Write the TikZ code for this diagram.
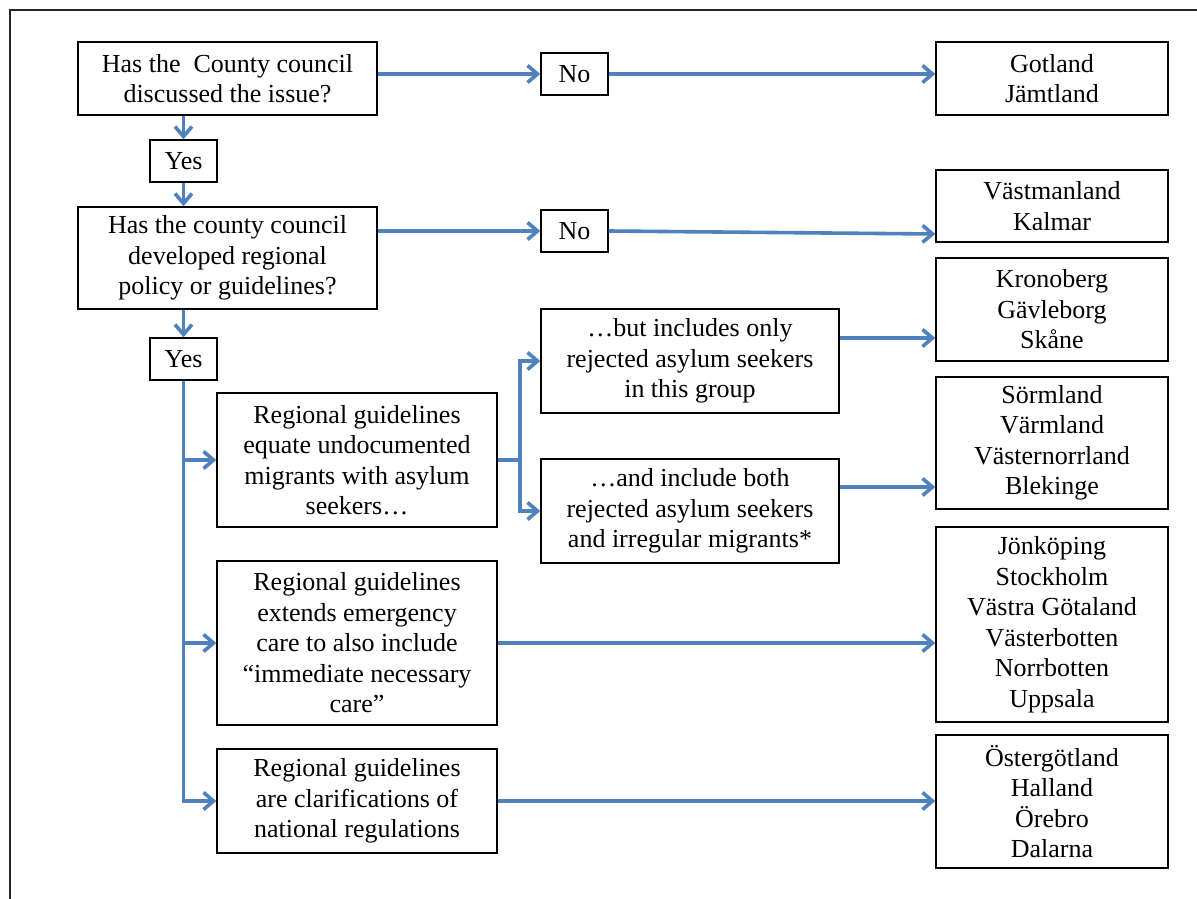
\documentclass[tikz,border=0pt]{standalone}
\usepackage{fontspec}
\setmainfont{Liberation Serif}
\usetikzlibrary{arrows.meta,calc}
\definecolor{arrblue}{HTML}{4F81BD}
\begin{document}
\begin{tikzpicture}[x=1pt,y=1pt,
  box/.style={draw=black, line width=1.4pt, align=center, inner sep=0pt,
    font=\fontsize{26}{30.5}\selectfont},
  arr/.style={draw=arrblue, line width=3.6pt,
    -{Straight Barb[length=10pt,width=17pt]}}]
\useasboundingbox (0,0) rectangle (1197,-899);
\begin{scope}
\clip (0,0) rectangle (1197,-899);
\draw[line width=1.5pt, black!85] (10,-920) -- (10,-10) -- (1220,-10);
\end{scope}
% left column
\node[box, minimum width=299, minimum height=73] (b1) at (227.5,-78.5) {Has the\ \ County council\\discussed the issue?};
\node[box, minimum width=67, minimum height=42] (yes1) at (183.5,-161) {Yes};
\node[box, minimum width=299, minimum height=102] (b2) at (227.5,-258) {Has the county council\\developed regional\\policy or guidelines?};
\node[box, minimum width=67, minimum height=42] (yes2) at (183.5,-359) {Yes};
% no boxes
\node[box, minimum width=67, minimum height=42] (no1) at (574.5,-74) {No};
\node[box, minimum width=67, minimum height=42] (no2) at (574.5,-231) {No};
% guideline boxes
\node[box, minimum width=280, minimum height=134] (g1) at (357,-460) {Regional guidelines\\equate undocumented\\migrants with asylum\\seekers…};
\node[box, minimum width=280, minimum height=164] (g2) at (357,-643) {Regional guidelines\\extends emergency\\care to also include\\“immediate necessary\\care”};
\node[box, minimum width=280, minimum height=104] (g3) at (357,-801) {Regional guidelines\\are clarifications of\\national regulations};
\node[box, minimum width=298, minimum height=104] (bo) at (690,-361) {…but includes only\\rejected asylum seekers\\in this group};
\node[box, minimum width=298, minimum height=104] (ai) at (690,-511) {…and include both\\rejected asylum seekers\\and irregular migrants*};
% right column
\node[box, minimum width=232, minimum height=73] (r1) at (1052,-78.5) {Gotland\\Jämtland};
\node[box, minimum width=232, minimum height=72] (r2) at (1052,-206) {Västmanland\\Kalmar};
\node[box, minimum width=232, minimum height=103] (r3) at (1052,-309.5) {Kronoberg\\Gävleborg\\Skåne};
\node[box, minimum width=232, minimum height=132] (r4) at (1052,-443) {Sörmland\\Värmland\\Västernorrland\\Blekinge};
\node[box, minimum width=232, minimum height=195] (r5) at (1052,-624.5) {Jönköping\\Stockholm\\Västra Götaland\\Västerbotten\\Norrbotten\\Uppsala};
\node[box, minimum width=232, minimum height=133] (r6) at (1052,-801.5) {Östergötland\\Halland\\Örebro\\Dalarna};
% connectors
\draw[arr] (b1.east |- no1.west) -- (no1.west);
\draw[arr] (no1.east) -- (no1.east -| r1.west);
\draw[arr] (b1.south -| yes1.north) -- (yes1.north);
\draw[arr] (yes1.south) -- (yes1.south |- b2.north);
\draw[arr] (b2.east |- no2.west) -- (no2.west);
\draw[arr] (no2.east) -- ($(no2.east -| r2.west)+(0,-3)$);
\draw[arr] (b2.south -| yes2.north) -- (yes2.north);
\draw[arr] (yes2.south) |- (g3.west);
\draw[arr] (yes2.south |- g1.west) -- (g1.west);
\draw[arr] (yes2.south |- g2.west) -- (g2.west);
\coordinate (sp) at ($(g1.east)+(22,0)$);
\draw[arr] (g1.east) -- (sp) |- (bo.west);
\draw[arr] (sp) |- (ai.west);
\draw[arr] (bo.east |- 0,-338) -- (r3.west |- 0,-338);
\draw[arr] (ai.east |- 0,-487) -- (r4.west |- 0,-487);
\draw[arr] (g2.east) -- (g2.east -| r5.west);
\draw[arr] (g3.east) -- (g3.east -| r6.west);
\end{tikzpicture}
\end{document}
